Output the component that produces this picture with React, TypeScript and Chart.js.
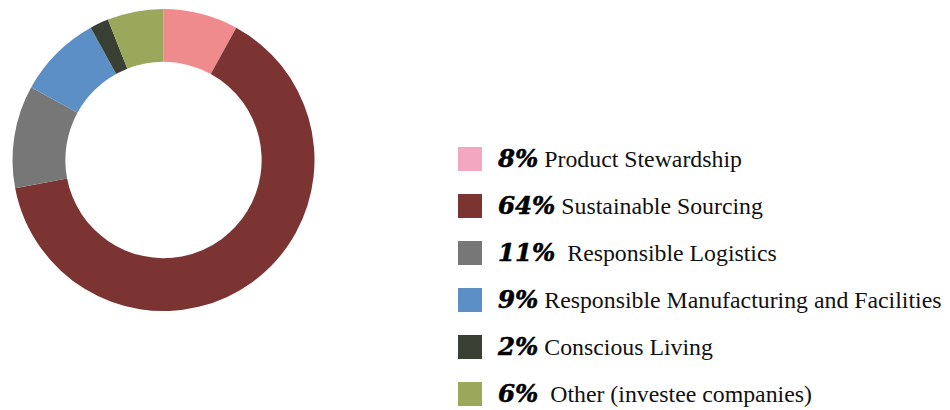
import React, { useEffect, useRef } from "react";
import { Chart, registerables } from "chart.js";

Chart.register(...registerables);

const categories = [
  "Product Stewardship",
  "Sustainable Sourcing",
  "Responsible Logistics",
  "Responsible Manufacturing and Facilities",
  "Conscious Living",
  "Other (investee companies)",
];
const shares = [8, 64, 11, 9, 2, 6];
const sliceColors = ["#EF8B8C", "#7B3432", "#777777", "#5B8FC6", "#3A3F33", "#9BA85C"];
const legendColors = ["#F4A7C0", "#7B3432", "#777777", "#5B8FC6", "#3A3F33", "#9BA85C"];
const separators = [" ", " ", "  ", " ", " ", "  "];

export default function App() {
  const ref = useRef<HTMLCanvasElement | null>(null);

  useEffect(() => {
    document.body.style.margin = "0";
    if (!ref.current) return;
    const chart = new Chart(ref.current, {
      type: "doughnut",
      data: {
        labels: categories,
        datasets: [
          {
            data: shares,
            backgroundColor: sliceColors,
            borderWidth: 0,
          },
        ],
      },
      options: {
        responsive: false,
        animation: false,
        radius: 151,
        cutout: "65%",
        layout: { padding: { left: 0, right: 3, top: 0, bottom: 0 } },
        plugins: {
          legend: { display: false },
          tooltip: { enabled: false },
        },
      },
    });
    return () => chart.destroy();
  }, []);

  return (
    <div style={{ position: "relative", width: 950, height: 410, background: "#fff", overflow: "hidden" }}>
      <canvas ref={ref} width={330} height={320} style={{ position: "absolute", left: 0, top: 0 }} />
      {categories.map((c, i) => (
        <div
          key={c}
          style={{
            position: "absolute",
            left: 458,
            top: 147 + i * 47,
            height: 24,
            display: "flex",
            alignItems: "center",
            whiteSpace: "pre",
          }}
        >
          <span style={{ display: "inline-block", width: 24, height: 24, background: legendColors[i], marginRight: 16 }} />
          <span style={{ lineHeight: "24px", color: "#000", position: "relative", top: 1 }}>
            <span
              style={{
                fontFamily: "'DejaVu Serif'",
                fontWeight: 900,
                fontStyle: "italic",
                fontSize: 24.5,
                WebkitTextStroke: "0.5px #000",
              }}
            >
              {shares[i] + "%"}
            </span>
            <span style={{ fontFamily: "'Liberation Serif'", fontSize: 23.8, color: "#111" }}>
              {separators[i] + c}
            </span>
          </span>
        </div>
      ))}
    </div>
  );
}
